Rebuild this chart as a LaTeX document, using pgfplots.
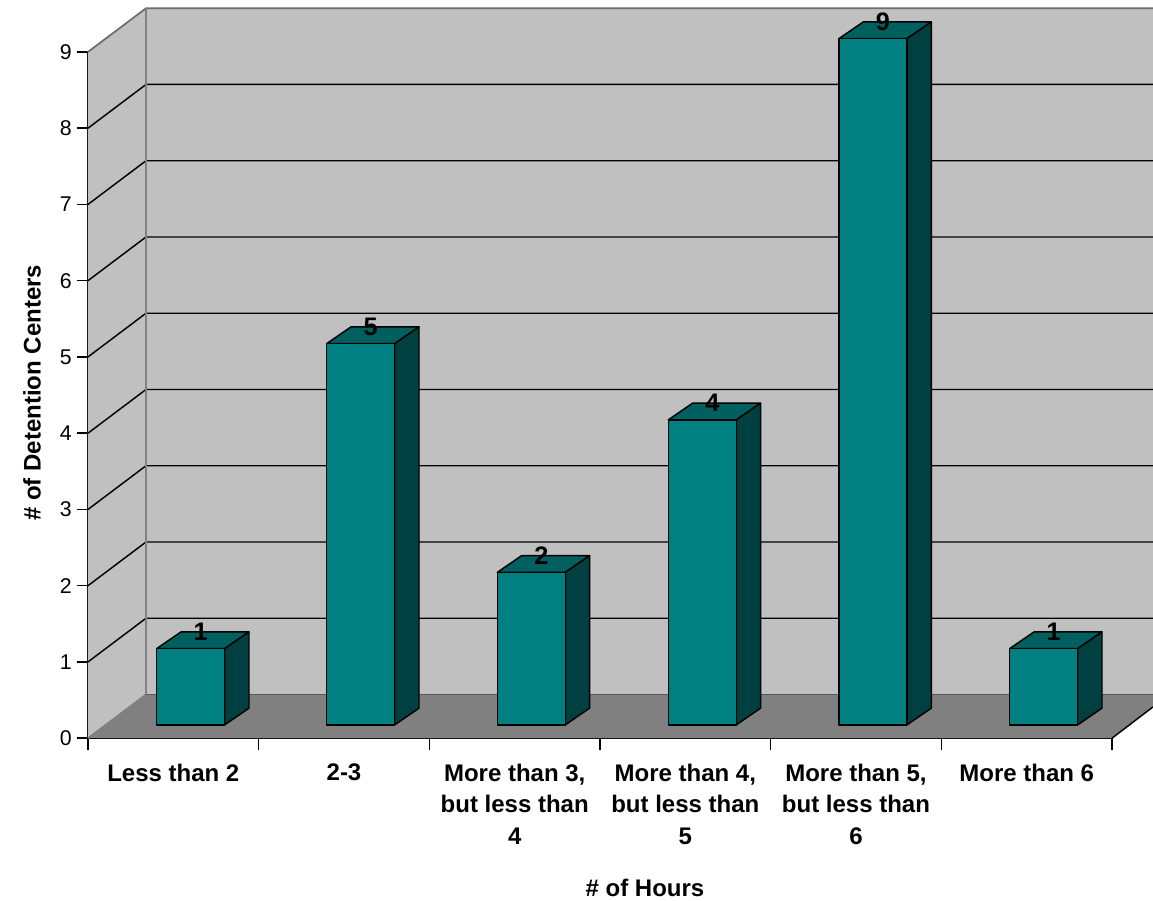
\documentclass[border=0pt]{standalone}
\usepackage{fontspec}
\setmainfont{Liberation Sans}
\usepackage{pgfplots}
\pgfplotsset{compat=1.18}
\definecolor{wall}{HTML}{C0C0C0}
\definecolor{floorgrey}{HTML}{808080}
\definecolor{barfront}{HTML}{008080}
\definecolor{bartop}{HTML}{006060}
\definecolor{barside}{HTML}{004040}
\begin{document}
\begin{tikzpicture}
\begin{axis}[
  scale only axis,
  width=768pt, height=514.7pt,
  xmin=88, xmax=1112, ymin=0, ymax=9,
  clip=false,
  axis x line*=bottom, axis y line*=left,
  axis line style={black, line width=1.1pt, -},
  tick align=outside,
  ytick={0,1,...,9},
  ytick style={black, line width=1.1pt},
  tick label style={/pgf/number format/assume math mode=true},
  major tick length=8.6pt, minor tick length=8.6pt,
  yticklabel style={font=\fontsize{16}{18}\selectfont, xshift=0pt},
  xtick={173.3,344,514.7,685.3,856,1026.7},
  minor xtick={88,258.7,429.3,600,770.7,941.3,1112},
  major x tick style={draw=none},
  minor x tick style={black, line width=1.1pt},
  xticklabels={{Less than 2},{2-3},{More than 3,\\but less than\\4},{More than 4,\\but less than\\5},{More than 5,\\but less than\\6},{More than 6}},
  xticklabel style={font=\fontsize{18}{23.6}\selectfont\bfseries, align=center, anchor=north, yshift=-7pt},
  xlabel={\# of Hours},
  ylabel={\# of Detention Centers},
  xlabel style={font=\fontsize{18}{20}\selectfont\bfseries, at={(axis description cs:0.5439,-0.2181)}, anchor=center},
  ylabel style={font=\fontsize{18}{20}\selectfont\bfseries, at={(axis description cs:-0.0547,0.5031)}, anchor=center, rotate=0},
]
% side wall, back wall and floor of the chart box
\addplot[fill=wall, draw=none] coordinates {(88,0)(146,0.573)(146,9.573)(88,9)} -- cycle;
\addplot[fill=wall, draw=none] coordinates {(146,0.573)(1153,0.573)(1153,9.573)(146,9.573)} -- cycle;
\addplot[fill=floorgrey, draw=none] coordinates {(88,0)(1112,0)(1153,0.41)(1153,0.573)(146,0.573)} -- cycle;
% horizontal grid lines, folded round the corner of the box
\pgfplotsinvokeforeach{1,...,8}{
  \addplot[black, line width=1.1pt] coordinates {(88,#1)(146,#1+0.573)(1153,#1+0.573)};
}
% box edges
\addplot[floorgrey!85!black, line width=1.3pt] coordinates {(88,9)(146,9.573)(1153,9.573)};
\addplot[floorgrey, line width=1.3pt] coordinates {(146,9.573)(146,0.573)(88,0)};
\addplot[black!65, line width=1.1pt] coordinates {(146,0.573)(1153,0.573)};
\addplot[black, line width=1.1pt] coordinates {(1112,0)(1153,0.41)};

% bar faces, all lifted to the floor line of the bars
\pgfplotsset{barface/.style={draw=black, line width=1.1pt, line join=round, yshift=10pt}}
% top faces
\addplot[barface, fill=bartop] coordinates {(156.7,1)(224.7,1)(249,1.219)(181,1.219)} -- cycle;
\addplot[barface, fill=bartop] coordinates {(326.7,5)(394.7,5)(419,5.219)(351,5.219)} -- cycle;
\addplot[barface, fill=bartop] coordinates {(497.3,2)(565.3,2)(589.6,2.219)(521.6,2.219)} -- cycle;
\addplot[barface, fill=bartop] coordinates {(668.3,4)(736.3,4)(760.6,4.219)(692.6,4.219)} -- cycle;
\addplot[barface, fill=bartop] coordinates {(839,9)(907,9)(931.3,9.219)(863.3,9.219)} -- cycle;
\addplot[barface, fill=bartop] coordinates {(1009.7,1)(1077.7,1)(1102,1.219)(1034,1.219)} -- cycle;
% side faces
\addplot[barface, fill=barside] coordinates {(224.7,0)(249,0.219)(249,1.219)(224.7,1)} -- cycle;
\addplot[barface, fill=barside] coordinates {(394.7,0)(419,0.219)(419,5.219)(394.7,5)} -- cycle;
\addplot[barface, fill=barside] coordinates {(565.3,0)(589.6,0.219)(589.6,2.219)(565.3,2)} -- cycle;
\addplot[barface, fill=barside] coordinates {(736.3,0)(760.6,0.219)(760.6,4.219)(736.3,4)} -- cycle;
\addplot[barface, fill=barside] coordinates {(907,0)(931.3,0.219)(931.3,9.219)(907,9)} -- cycle;
\addplot[barface, fill=barside] coordinates {(1077.7,0)(1102,0.219)(1102,1.219)(1077.7,1)} -- cycle;
% front faces with the value labels
\addplot[ybar, bar width=68, bar shift=0pt, barface, fill=barfront,
  nodes near coords,
  point meta=y,
  nodes near coords style={font=\fontsize{19}{20}\selectfont\bfseries, anchor=center,
    /pgf/number format/assume math mode=true, text=black, xshift=7.5pt, yshift=12.5pt}]
  coordinates {(190.7,1)(360.7,5)(531.3,2)(702.3,4)(873,9)(1043.7,1)};

\coordinate (pagebl) at (axis cs:0,-2.1335);
\coordinate (pagetr) at (axis cs:1153,9.681);
\end{axis}
\pgfresetboundingbox
\path[use as bounding box] (pagebl) rectangle (pagetr);
\end{tikzpicture}
\end{document}
